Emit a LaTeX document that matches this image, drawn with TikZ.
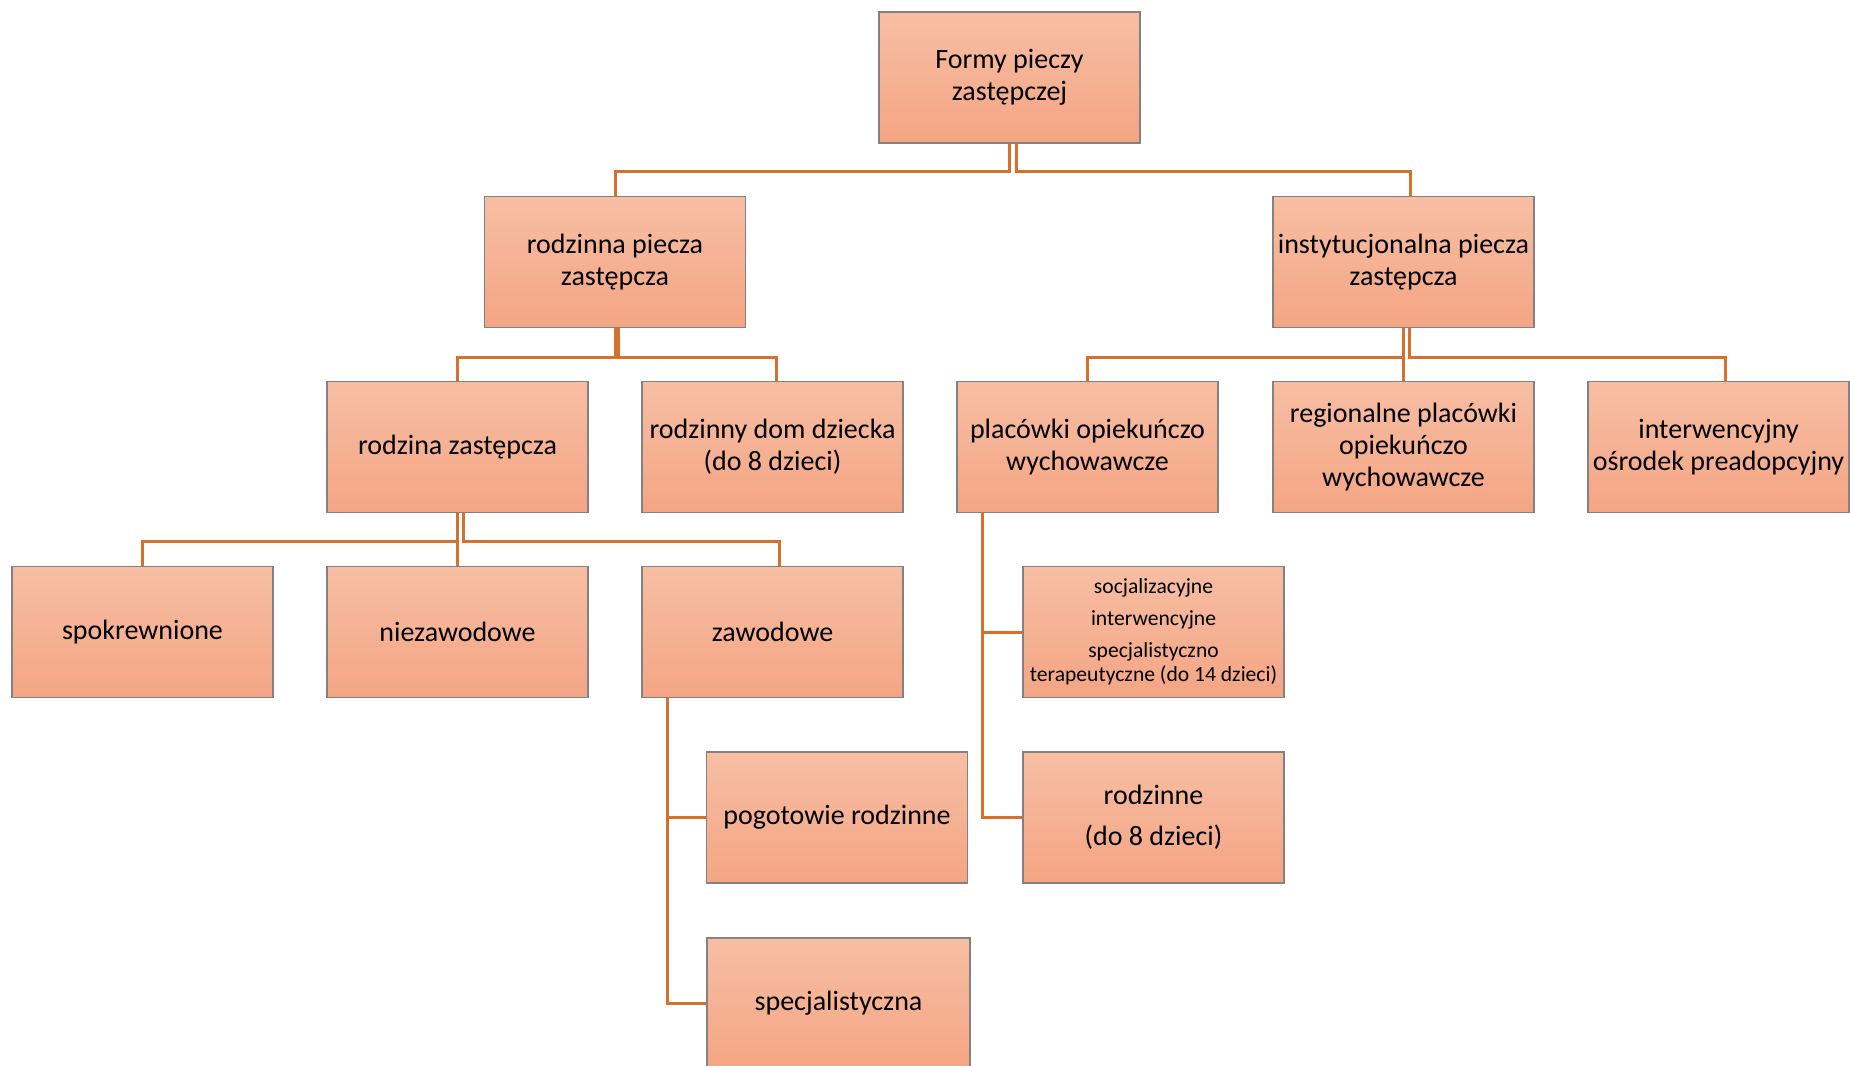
\documentclass[tikz,border=0pt]{standalone}
\usepackage{fontspec}
\setmainfont{Carlito}
\usetikzlibrary{shadings}
\definecolor{boxtop}{RGB}{247,190,164}
\definecolor{boxbot}{RGB}{244,165,131}
\definecolor{boxline}{RGB}{130,130,130}
\definecolor{linkc}{RGB}{214,112,44}
\tikzset{
  box/.style={rectangle, draw=boxline, line width=0.7pt, top color=boxtop, bottom color=boxbot,
    minimum width=130.5pt, minimum height=65.5pt, inner sep=1pt, align=center,
    font=\fontsize{14}{15.9}\selectfont},
  link/.style={draw=linkc, line width=1.5pt}
}
\begin{document}
\begin{tikzpicture}[x=0.5pt, y=-0.5pt]
  \useasboundingbox (0,0) rectangle (1850,1065);
  % levels
  \node[box] (formy) at (1009.5,77.5) {Formy pieczy\\zastępczej};
  \node[box] (rodz) at (615,262) {rodzinna piecza\\zastępcza};
  \node[box] (inst) at (1403.5,262) {instytucjonalna piecza\\zastępcza};
  \node[box] (rz) at (457.5,447) {rodzina zastępcza};
  \node[box] (rdd) at (772.5,447) {rodzinny dom dziecka\\(do 8 dzieci)};
  \node[box] (plac) at (1087.5,447) {placówki opiekuńczo\\wychowawcze};
  \node[box] (reg) at (1403.5,447) {regionalne placówki\\opiekuńczo\\wychowawcze};
  \node[box] (ios) at (1718.5,447) {interwencyjny\\ośrodek preadopcyjny};
  \node[box] (spok) at (142.5,632) {spokrewnione};
  \node[box] (niez) at (457.5,632) {niezawodowe};
  \node[box] (zaw) at (772.5,632) {zawodowe};
  \node[box, font=\fontsize{10.8}{12}\selectfont] (soc) at (1153.5,632)
    {socjalizacyjne\\[4pt]interwencyjne\\[4pt]specjalistyczno\\terapeutyczne (do 14 dzieci)};
  \node[box] (pog) at (837,817.5) {pogotowie rodzinne};
  \node[box] (rodzinne) at (1153.5,817.5) {rodzinne\\[4.5pt](do 8 dzieci)};
  \node[box, minimum width=131.5pt] (spec) at (838.5,1003.5) {specjalistyczna};
  % links
  \path[link]
    (formy.south) -- ++(0,28) -| (rodz.north)
    ([xshift=3.5pt]formy.south) -- ++(0,28) -| ([xshift=3.5pt]inst.north)
    (rodz.south) -- ++(0,29) -| (rz.north)
    ([xshift=1.5pt]rodz.south) -- ++(0,29) -| ([xshift=1.75pt]rdd.north)
    (inst.south) -- ++(0,29) -| (plac.north)
    (inst.south) -- (reg.north)
    ([xshift=2.75pt]inst.south) -- ++(0,29) -| ([xshift=3.25pt]ios.north)
    (rz.south) -- ++(0,28) -| (spok.north)
    (rz.south) -- (niez.north)
    ([xshift=3pt]rz.south) -- ++(0,28) -| ([xshift=3.25pt]zaw.north)
    ([xshift=13pt]zaw.south west) |- (pog.west)
    ([xshift=13pt]zaw.south west) |- (spec.west)
    ([xshift=13pt]plac.south west) |- (soc.west)
    ([xshift=13pt]plac.south west) |- (rodzinne.west);
\end{tikzpicture}
\end{document}
